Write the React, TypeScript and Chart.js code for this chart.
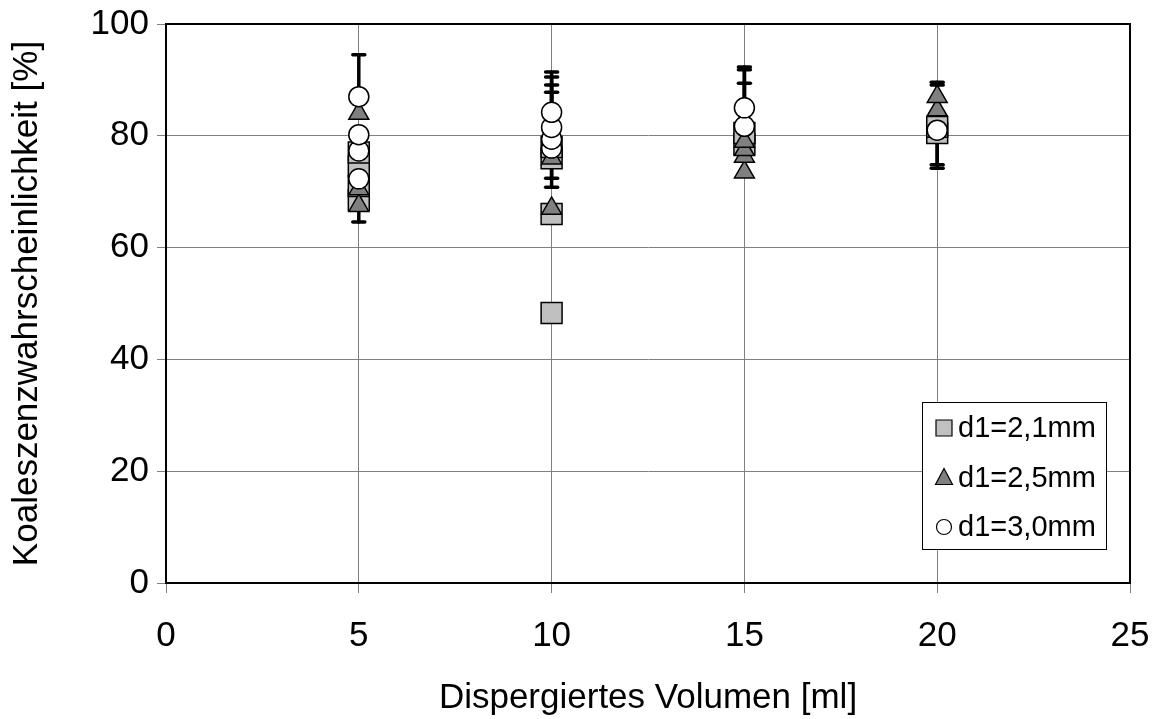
import React, { useEffect, useRef } from "react";
import { Chart, registerables } from "chart.js";

Chart.register(...registerables);

const seriesLabels = ["d1=2,1mm", "d1=2,5mm", "d1=3,0mm"];

const squareX = [5, 5, 5, 5, 10, 10, 10, 10, 15, 15, 20, 20];
const squareY = [68.5, 71, 74.5, 77, 48.3, 66, 76, 78, 78.5, 80.5, 80.5, 81.6];
const squarePlus = [0, 0, 0, 0, 0, 0, 0, 0, 0, 8.9, 8.6, 8.0];
const squareMinus = [3.9, 0, 0, 0, 0, 0, 0, 0, 0, 0, 6.3, 6.8];

const triangleX = [5, 5, 5, 10, 10, 15, 15, 15, 15, 20, 20];
const triangleY = [67.5, 70.5, 84, 67, 76, 73.5, 76.3, 77.5, 79, 84.6, 87];
const trianglePlus = [0, 0, 0, 0, 0, 0, 0, 0, 0, 0, 0];
const triangleMinus = [0, 0, 0, 0, 0, 0, 0, 0, 0, 0, 0];

const circleX = [5, 5, 5, 5, 10, 10, 10, 10, 15, 15, 20];
const circleY = [72.3, 77.3, 80.2, 87, 77.8, 79.4, 81.5, 84.2, 81.7, 85, 81];
const circlePlus = [0, 0, 0, 7.5, 10, 9.7, 9, 7.2, 10.1, 7.3, 0];
const circleMinus = [0, 0, 0, 0, 7, 7, 0, 0, 0, 0, 0];

const xTicks = [0, 5, 10, 15, 20, 25];
const yTicks = [0, 20, 40, 60, 80, 100];

const FONT = "'Liberation Sans', Arial, sans-serif";
const AXIS_FONT = 35;
const LEGEND_FONT = 29;

const toPoints = (xs: number[], ys: number[]) => xs.map((x, i) => ({ x, y: ys[i] }));

const errorsPlus = [squarePlus, trianglePlus, circlePlus];
const errorsMinus = [squareMinus, triangleMinus, circleMinus];

const extrasPlugin = {
  id: "extras",
  beforeDatasetsDraw(chart: any) {
    const { ctx, chartArea, scales } = chart;
    ctx.save();
    ctx.strokeStyle = "#000";
    ctx.lineWidth = 2;
    ctx.beginPath();
    ctx.moveTo(chartArea.left, chartArea.top);
    ctx.lineTo(chartArea.right, chartArea.top);
    ctx.lineTo(chartArea.right, chartArea.bottom);
    ctx.stroke();
    ctx.lineWidth = 3.5;
    ctx.lineCap = "round";
    chart.data.datasets.forEach((ds: any, di: number) => {
      ds.data.forEach((p: any, i: number) => {
        const plus = errorsPlus[di][i];
        const minus = errorsMinus[di][i];
        const x = scales.x.getPixelForValue(p.x);
        const draw = (v: number) => {
          const yp = scales.y.getPixelForValue(v);
          const y0 = scales.y.getPixelForValue(p.y);
          ctx.beginPath();
          ctx.moveTo(x, y0);
          ctx.lineTo(x, yp);
          ctx.stroke();
          ctx.beginPath();
          ctx.moveTo(x - 6, yp);
          ctx.lineTo(x + 6, yp);
          ctx.stroke();
        };
        if (plus > 0) draw(p.y + plus);
        if (minus > 0) draw(p.y - minus);
      });
    });
    ctx.restore();
  },
  afterDraw(chart: any) {
    const { ctx, chartArea } = chart;
    const right = chartArea.right - 24;
    const bottom = chartArea.bottom - 34;
    const w = 184;
    const h = 147;
    const left = right - w;
    const top = bottom - h;
    ctx.save();
    ctx.fillStyle = "#fff";
    ctx.fillRect(left, top, w, h);
    ctx.strokeStyle = "#000";
    ctx.lineWidth = 1;
    ctx.strokeRect(left + 0.5, top + 0.5, w, h);
    ctx.font = `${LEGEND_FONT}px ${FONT}`;
    ctx.textBaseline = "middle";
    chart.data.datasets.forEach((ds: any, i: number) => {
      const cy = top + 26 + i * 49.5;
      const cx = left + 22;
      ctx.fillStyle = ds.backgroundColor;
      ctx.strokeStyle = "#000";
      ctx.lineWidth = 1.2;
      ctx.beginPath();
      if (ds.pointStyle === "rect") {
        ctx.rect(cx - 8, cy - 8, 16, 16);
      } else if (ds.pointStyle === "triangle") {
        ctx.moveTo(cx, cy - 9);
        ctx.lineTo(cx + 8.5, cy + 7);
        ctx.lineTo(cx - 8.5, cy + 7);
        ctx.closePath();
      } else {
        ctx.arc(cx, cy, 7.5, 0, Math.PI * 2);
      }
      ctx.fill();
      ctx.stroke();
      ctx.fillStyle = "#000";
      ctx.fillText(ds.label, left + 36, cy + 1);
    });
    ctx.restore();
  },
};

export default function App() {
  const ref = useRef<HTMLCanvasElement | null>(null);
  useEffect(() => {
    document.body.style.margin = "0";
    if (!ref.current) return;
    const chart = new Chart(ref.current, {
      type: "scatter",
      data: {
        datasets: [
          {
            label: seriesLabels[0],
            data: toPoints(squareX, squareY),
            pointStyle: "rect",
            pointRadius: 14.8,
            backgroundColor: "#c0c0c0",
            borderColor: "#000",
            borderWidth: 1.5,
            order: 3,
          },
          {
            label: seriesLabels[1],
            data: toPoints(triangleX, triangleY),
            pointStyle: "triangle",
            pointRadius: 11.5,
            backgroundColor: "#808080",
            borderColor: "#000",
            borderWidth: 1.5,
            order: 2,
          },
          {
            label: seriesLabels[2],
            data: toPoints(circleX, circleY),
            pointStyle: "circle",
            pointRadius: 10,
            backgroundColor: "#ffffff",
            borderColor: "#000",
            borderWidth: 1.5,
            order: 1,
          },
        ],
      },
      options: {
        responsive: false,
        animation: false,
        layout: { padding: { left: 0, top: 24, right: 25, bottom: 0 } },
        plugins: { legend: { display: false }, tooltip: { enabled: false } },
        scales: {
          x: {
            type: "linear",
            min: 0,
            max: 25,
            afterBuildTicks: (axis: any) => {
              axis.ticks = xTicks.map((v) => ({ value: v }));
            },
            afterFit: (axis: any) => {
              axis.height = 136;
              axis.paddingLeft = 0;
              axis.paddingRight = 0;
            },
            ticks: {
              color: "#000",
              font: { family: FONT, size: AXIS_FONT },
              padding: 22,
              maxRotation: 0,
            },
            grid: { color: "#808080", lineWidth: 1, tickLength: 10, tickColor: "#808080" },
            border: { display: true, color: "#000", width: 2 },
            title: {
              display: true,
              text: "Dispergiertes Volumen [ml]",
              color: "#000",
              font: { family: FONT, size: AXIS_FONT },
              padding: { top: 0, bottom: 0 },
            },
          },
          y: {
            type: "linear",
            min: 0,
            max: 100,
            afterBuildTicks: (axis: any) => {
              axis.ticks = yTicks.map((v) => ({ value: v }));
            },
            afterFit: (axis: any) => {
              axis.width = 166;
              axis.paddingTop = 0;
              axis.paddingBottom = 0;
            },
            ticks: {
              color: "#000",
              font: { family: FONT, size: AXIS_FONT },
              padding: 8,
            },
            grid: { color: "#808080", lineWidth: 1, tickLength: 9, tickColor: "#808080" },
            border: { display: true, color: "#000", width: 2 },
            title: {
              display: true,
              text: "Koaleszenzwahrscheinlichkeit [%]",
              color: "#000",
              font: { family: FONT, size: AXIS_FONT },
              padding: { top: 6, bottom: 0 },
            },
          },
        },
      },
      plugins: [extrasPlugin],
    } as any);
    return () => chart.destroy();
  }, []);
  return <canvas ref={ref} width={1155} height={719} style={{ display: "block" }} />;
}
